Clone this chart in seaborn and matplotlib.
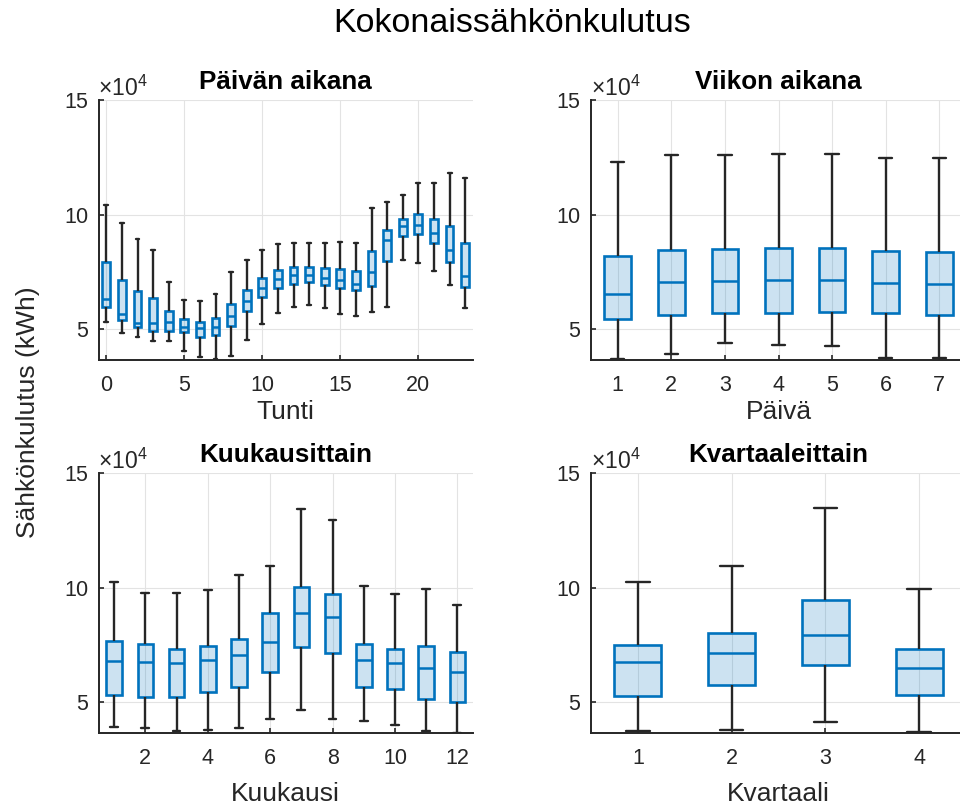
import numpy as np
import pandas as pd
import matplotlib
matplotlib.use("Agg")
import matplotlib.pyplot as plt
from matplotlib.ticker import ScalarFormatter
import seaborn as sns

# ---------------- data (kWh), five-number summaries ----------------
hours = list(range(24))
hour_lo = [53100, 48100, 46600, 44900, 44700, 40500, 37900, 37100, 38200, 45200, 52000, 56900,
           59500, 60500, 59100, 56600, 55700, 57300, 59500, 80100, 78800, 75400, 69300, 59400]
hour_q1 = [59500, 53900, 51000, 49300, 49100, 48500, 46600, 47200, 51300, 58000, 63900, 67700,
           69700, 70500, 69200, 67800, 67100, 68900, 79500, 90500, 91400, 87600, 79100, 68300]
hour_med = [63000, 56600, 52500, 52500, 53200, 51000, 50600, 51000, 55700, 62400, 68100, 71900,
            73500, 73700, 72200, 71200, 69700, 75100, 89000, 95200, 95600, 92000, 84600, 73200]
hour_q3 = [79100, 71500, 66400, 63700, 58000, 54200, 53100, 54700, 60800, 67100, 72200, 75600,
           77000, 77000, 76600, 76200, 75400, 84200, 93400, 98100, 100400, 98100, 95200, 87600]
hour_hi = [104200, 96100, 89300, 84600, 70600, 62700, 62400, 65400, 74900, 80300, 84400, 87100,
           87400, 87400, 87600, 87900, 87600, 102900, 105400, 108500, 113600, 113700, 118300, 115900]

days = [1, 2, 3, 4, 5, 6, 7]
day_lo = [37100, 39000, 43700, 43100, 42500, 37400, 37400]
day_q1 = [54400, 56300, 57100, 57100, 57600, 56800, 56000]
day_med = [65400, 70600, 70900, 71300, 71600, 70000, 69700]
day_q3 = [81800, 84400, 85000, 85300, 85200, 84000, 83700]
day_hi = [122900, 125900, 126200, 126600, 126300, 124500, 124500]

months = list(range(1, 13))
month_lo = [39400, 38800, 37500, 37900, 38800, 42600, 46900, 42700, 41900, 40300, 37500, 36800]
month_q1 = [53200, 52200, 52500, 54700, 56800, 63200, 74300, 71400, 56800, 55800, 51700, 50100]
month_med = [68000, 67700, 67000, 68500, 70900, 76500, 89000, 87400, 68300, 67400, 65000, 63100]
month_q3 = [76700, 75700, 73500, 74600, 77500, 89200, 100400, 97200, 75400, 73400, 74600, 72200]
month_hi = [102500, 97800, 97500, 99000, 105500, 109400, 134200, 129500, 100700, 97200, 99300, 92300]

quarters = [1, 2, 3, 4]
q_lo = [37400, 37900, 41500, 37100]
q_q1 = [52800, 57500, 66400, 53100]
q_med = [67500, 71500, 79200, 65100]
q_q3 = [75000, 80300, 94700, 73500]
q_hi = [102600, 109500, 134600, 99600]

main_title = "Kokonaissähkönkulutus"
y_label = "Sähkönkulutus (kWh)"
panels = [
    ("Päivän aikana", "Tunti", hours, hour_lo, hour_q1, hour_med, hour_q3, hour_hi, [0, 5, 10, 15, 20]),
    ("Viikon aikana", "Päivä", days, day_lo, day_q1, day_med, day_q3, day_hi, [1, 2, 3, 4, 5, 6, 7]),
    ("Kuukausittain", "Kuukausi", months, month_lo, month_q1, month_med, month_q3, month_hi, [2, 4, 6, 8, 10, 12]),
    ("Kvartaaleittain", "Kvartaali", quarters, q_lo, q_q1, q_med, q_q3, q_hi, [1, 2, 3, 4]),
]
y_ticks = [50000, 100000, 150000]
y_limits = (36700, 150000)

# ---------------- style ----------------
sns.set_theme(style="white")
plt.rcParams["font.family"] = ["Liberation Sans", "DejaVu Sans"]
plt.rcParams["mathtext.fontset"] = "custom"
plt.rcParams["mathtext.rm"] = "Liberation Sans"
plt.rcParams["mathtext.it"] = "Liberation Sans"

AX_COLOR = "#262626"
BLUE = "#0072BD"
FACE = (0.0, 0.447, 0.741, 0.2)

W, H = 960, 805
fig = plt.figure(figsize=(W / 100, H / 100), dpi=100)

positions = [
    (98.5, 100, 473, 359.5),
    (591, 100, 966, 359.5),
    (98.5, 473, 473, 733),
    (591, 473, 966, 733),
]
label_pads = [3, 3, 9, 9]

for (title, xlabel, xs, lo, q1, med, q3, hi, xticks), (x0, y0, x1, y1), lp in zip(panels, positions, label_pads):
    ax = fig.add_axes([x0 / W, 1 - y1 / H, (x1 - x0) / W, (y1 - y0) / H])
    rows = []
    for i, xv in enumerate(xs):
        for v in (lo[i], q1[i], med[i], q3[i], hi[i]):
            rows.append({"x": xv, "v": v})
    df = pd.DataFrame(rows)
    sns.boxplot(
        data=df, x="x", y="v", native_scale=True, whis=(0, 100), width=0.5,
        ax=ax, linewidth=1.6,
        boxprops=dict(facecolor=FACE, edgecolor=BLUE, linewidth=1.9),
        medianprops=dict(color=BLUE, linewidth=1.8),
        whiskerprops=dict(color=AX_COLOR, linewidth=1.7),
        capprops=dict(color=AX_COLOR, linewidth=1.7),
        showfliers=False,
    )
    ax.set_xlim(xs[0] - 0.5, xs[-1] + 0.5)
    ax.set_ylim(*y_limits)
    ax.set_xticks(xticks)
    ax.set_xticklabels([str(t) for t in xticks])
    ax.set_yticks(y_ticks)
    fmt = ScalarFormatter(useMathText=True)
    fmt.set_powerlimits((4, 4))
    ax.yaxis.set_major_formatter(fmt)
    ax.set_axisbelow(True)
    ax.grid(True, color="#e3e3e3", linewidth=0.8)
    for s in ["top", "right"]:
        ax.spines[s].set_visible(False)
    for s in ["left", "bottom"]:
        ax.spines[s].set_color(AX_COLOR)
        ax.spines[s].set_linewidth(1.4)
    ax.tick_params(direction="in", length=3.5, width=1.2, colors=AX_COLOR,
                   labelsize=15.5, left=True, bottom=True)
    ax.tick_params(axis="x", pad=11)
    ax.tick_params(axis="y", pad=7)
    off = ax.yaxis.get_offset_text()
    off.set_fontsize(16.5)
    off.set_color(AX_COLOR)
    ax.set_title(title, fontsize=18.7, fontweight="bold", color="black", pad=8)
    ax.set_xlabel(xlabel, fontsize=19, color=AX_COLOR, labelpad=lp)
    ax.set_ylabel("")

fig.suptitle(main_title, fontsize=24.5, x=512 / W, y=1 - 24 / H, va="center", color="black")
fig.text(28 / W, 1 - 412 / H, y_label, rotation=90, fontsize=19, color=AX_COLOR,
         ha="center", va="center")

fig.savefig("out.png", dpi=100)
